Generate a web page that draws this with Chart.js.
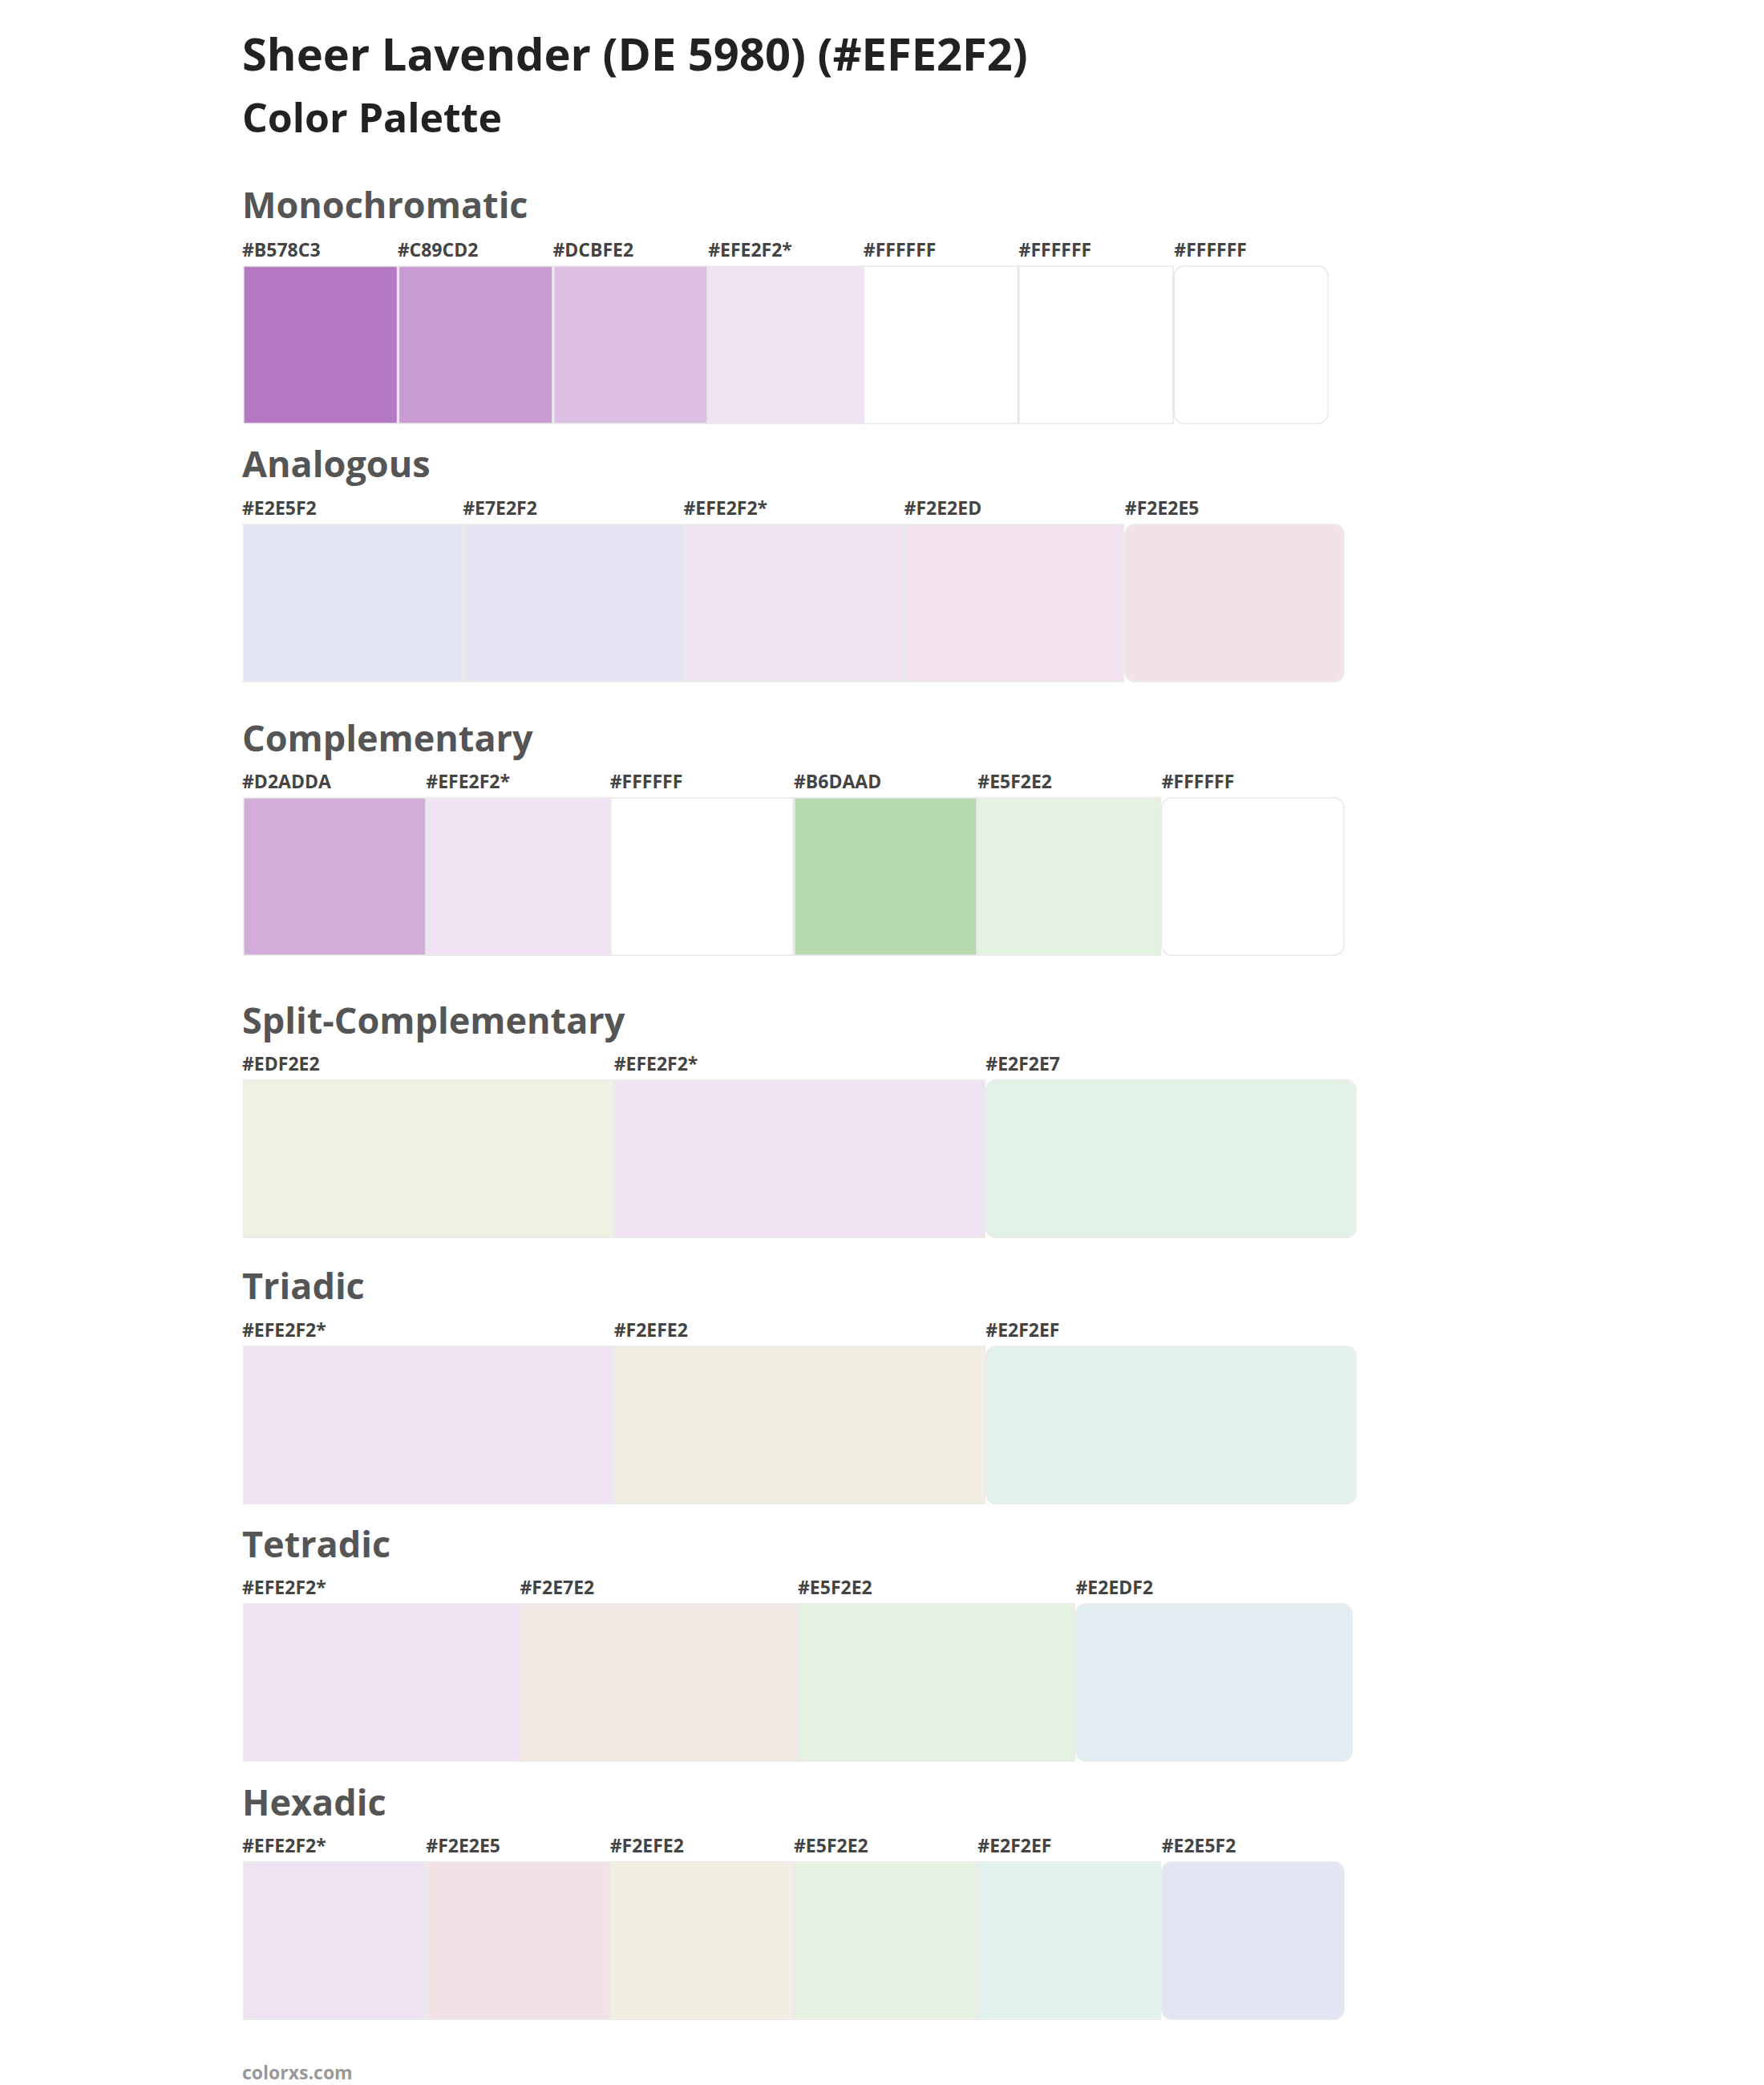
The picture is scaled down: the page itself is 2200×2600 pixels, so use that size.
<!DOCTYPE html>
<html><head><meta charset="utf-8">
<script src="https://cdn.jsdelivr.net/npm/chart.js@4"></script>
<style>
body{margin:0;width:2200px;height:2600px;background:#fff;font-family:"Open Sans",Lato,sans-serif;position:relative;overflow:hidden}
.t{position:absolute;left:302px;color:#222;font-weight:700;white-space:nowrap}
.h{position:absolute;left:302px;color:#555;font-weight:700;font-size:45px;line-height:1}
.lab{position:absolute;color:#444;font-weight:700;font-size:23px;line-height:1}
.box{position:absolute;left:302px}
</style></head><body>
<div class="t" style="top:28px;font-size:56px">Sheer Lavender (DE 5980) (#EFE2F2)</div>
<div class="t" style="top:112px;font-size:50px">Color Palette</div>
<div class="t" style="top:2568px;font-size:23px;color:#999">colorxs.com</div>
<script>
const sectionNames=["Monochromatic","Analogous","Complementary","Split-Complementary","Triadic","Tetradic","Hexadic"];
const monoLabels=["#B578C3","#C89CD2","#DCBFE2","#EFE2F2*","#FFFFFF","#FFFFFF","#FFFFFF"];
const analogousLabels=["#E2E5F2","#E7E2F2","#EFE2F2*","#F2E2ED","#F2E2E5"];
const complementaryLabels=["#D2ADDA","#EFE2F2*","#FFFFFF","#B6DAAD","#E5F2E2","#FFFFFF"];
const splitLabels=["#EDF2E2","#EFE2F2*","#E2F2E7"];
const triadicLabels=["#EFE2F2*","#F2EFE2","#E2F2EF"];
const tetradicLabels=["#EFE2F2*","#F2E7E2","#E5F2E2","#E2EDF2"];
const hexadicLabels=["#EFE2F2*","#F2E2E5","#F2EFE2","#E5F2E2","#E2F2EF","#E2E5F2"];
const allLabels=[monoLabels,analogousLabels,complementaryLabels,splitLabels,triadicLabels,tetradicLabels,hexadicLabels];
const layout=[[232,330,1356],[555,652,1376],[897,993,1376],[1249,1345,1391],[1580,1677,1391],[1902,1998,1386],[2224,2320,1376]];
sectionNames.forEach((name,s)=>{
  const [hy,by,w]=layout[s];const labels=allLabels[s];const n=labels.length;const H=200;
  const h=document.createElement('div');h.className='h';h.style.top=hy+'px';h.textContent=name;document.body.appendChild(h);
  labels.forEach((l,i)=>{const d=document.createElement('div');d.className='lab';d.style.left=(302+i*w/n)+'px';d.style.top=(by-30)+'px';d.textContent=l;document.body.appendChild(d);});
  const box=document.createElement('div');box.className='box';box.style.top=by+'px';box.style.width=w+'px';box.style.height=H+'px';
  const c=document.createElement('canvas');box.appendChild(c);document.body.appendChild(box);
  new Chart(c,{type:'bar',data:{labels:[''],datasets:labels.map(l=>{const col=l.replace('*','');return{data:[1],backgroundColor:col,borderColor:'rgba(0,0,0,0.08)',borderWidth:2,borderRadius:14,borderSkipped:false,barPercentage:1,categoryPercentage:1};})},
    options:{indexAxis:'y',responsive:true,maintainAspectRatio:false,animation:false,layout:{padding:1},
      plugins:{legend:{display:false},tooltip:{enabled:false}},
      scales:{x:{stacked:true,display:false,min:0,max:n},y:{stacked:true,display:false}}}});
});
</script>
</body></html>
